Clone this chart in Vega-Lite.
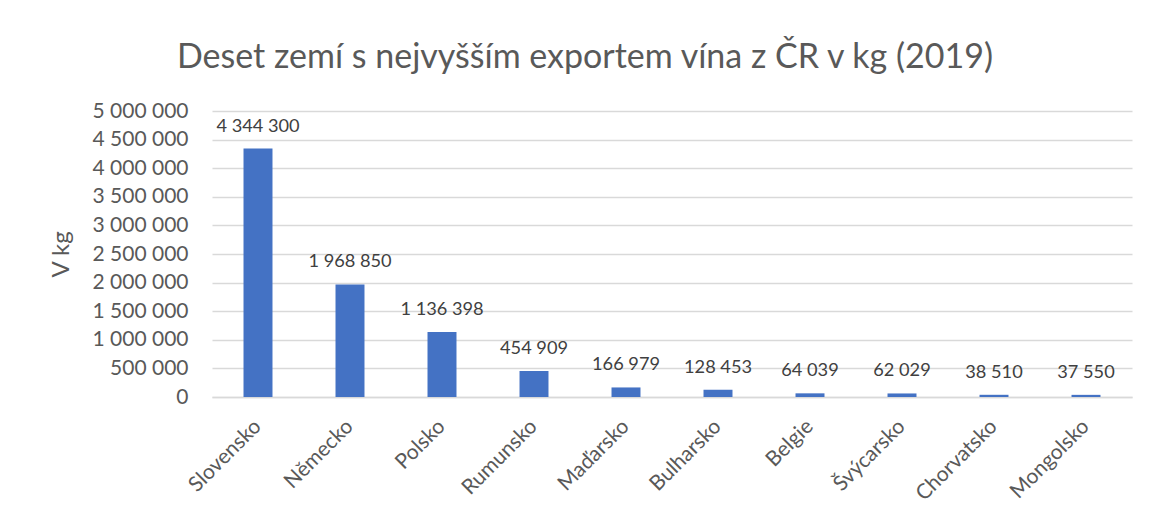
{
  "$schema": "https://vega.github.io/schema/vega-lite/v6.json",
  "autosize": {"type": "none"},
  "width": 920,
  "height": 286,
  "padding": {"left": 212, "top": 111, "right": 17, "bottom": 126},
  "background": "white",
  "title": {
    "text": "Deset zemí s nejvyšším exportem vína z ČR v kg (2019)",
    "font": "Lato",
    "fontSize": 34,
    "fontWeight": "normal",
    "color": "#595959",
    "anchor": "middle",
    "dx": -87,
    "offset": 25
  },
  "config": {
    "font": "Lato",
    "view": {"stroke": null},
    "locale": {"number": {"decimal": ",", "thousands": " ", "grouping": [3], "currency": ["", " Kč"]}}
  },
  "data": {
    "values": [
      {"zeme": "Slovensko", "kg": 4344300},
      {"zeme": "Německo", "kg": 1968850},
      {"zeme": "Polsko", "kg": 1136398},
      {"zeme": "Rumunsko", "kg": 454909},
      {"zeme": "Maďarsko", "kg": 166979},
      {"zeme": "Bulharsko", "kg": 128453},
      {"zeme": "Belgie", "kg": 64039},
      {"zeme": "Švýcarsko", "kg": 62029},
      {"zeme": "Chorvatsko", "kg": 38510},
      {"zeme": "Mongolsko", "kg": 37550}
    ]
  },
  "encoding": {
    "x": {
      "field": "zeme",
      "type": "nominal",
      "sort": null,
      "scale": {"paddingInner": 0.685, "paddingOuter": 0.3425},
      "axis": {
        "title": null,
        "labelAngle": -45,
        "labelAlign": "right",
        "labelBaseline": "middle",
        "labelFontSize": 21,
        "labelColor": "#595959",
        "labelPadding": 26,
        "ticks": false,
        "domainColor": "#d9d9d9",
        "domainWidth": 1.5
      }
    },
    "y": {
      "field": "kg",
      "type": "quantitative",
      "scale": {"domain": [0, 5000000], "nice": false},
      "axis": {
        "title": "V kg",
        "titleFontSize": 24,
        "titleFontWeight": "normal",
        "titleColor": "#595959",
        "titlePadding": 18,
        "values": [0, 500000, 1000000, 1500000, 2000000, 2500000, 3000000, 3500000, 4000000, 4500000, 5000000],
        "format": ",d",
        "labelFontSize": 21,
        "labelColor": "#595959",
        "labelPadding": 24,
        "ticks": false,
        "domain": false,
        "gridColor": "#d9d9d9",
        "gridWidth": 1.5
      }
    }
  },
  "layer": [
    {"mark": {"type": "bar", "color": "#4472C4"}},
    {
      "mark": {"type": "text", "dy": -22, "baseline": "middle", "fontSize": 18.2, "color": "#404040"},
      "encoding": {"text": {"field": "kg", "type": "quantitative", "format": ",d"}}
    }
  ]
}
